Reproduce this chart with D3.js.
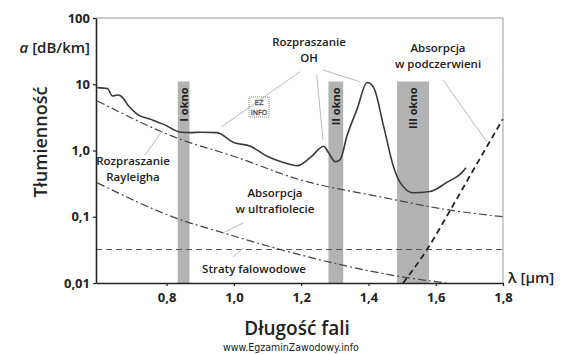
<!DOCTYPE html>
<html>
<head>
<meta charset="utf-8">
<script src="https://cdn.jsdelivr.net/npm/d3@7"></script>
<style>
  body { margin: 0; background: #fff; }
  text { font-family: "Open Sans", "DejaVu Sans", sans-serif; fill: #222; }
</style>
</head>
<body>
<div id="chart-area"></div>
<script>
// data (wavelength in um, attenuation in dB/km)
var totalLambda = [0.594, 0.624, 0.639, 0.654, 0.664, 0.687, 0.713, 0.753, 0.791, 0.842, 0.871, 0.901, 0.95, 0.999, 1.049, 1.099, 1.147, 1.188, 1.227, 1.267, 1.281, 1.301, 1.316, 1.336, 1.366, 1.396, 1.415, 1.445, 1.474, 1.494, 1.533, 1.583, 1.633, 1.677, 1.69];
var totalLoss = [8.9, 8.6, 6.65, 6.9, 6.65, 4.69, 3.51, 2.95, 2.48, 1.89, 1.86, 1.89, 1.86, 1.32, 1.16, 0.82, 0.66, 0.59, 0.78, 1.16, 0.93, 0.68, 0.73, 1.65, 4.18, 10.6, 9.0, 2.33, 0.58, 0.33, 0.23, 0.24, 0.33, 0.46, 0.55];

var rayleighLambda = [0.594, 0.842, 0.999, 1.198, 1.435, 1.633, 1.8];
var rayleighLoss = [5.6, 1.47, 0.82, 0.36, 0.2, 0.128, 0.1];

var uvLambda = [0.594, 0.842, 0.969, 1.138, 1.296, 1.494, 1.633];
var uvLoss = [0.325, 0.09, 0.057, 0.032, 0.02, 0.0125, 0.01];

var irLambda = [1.503, 1.574, 1.643, 1.711, 1.8];
var irLoss = [0.01, 0.032, 0.125, 0.5, 3.0];

var waveguideLoss = 0.032;

var windowNames = ["I okno", "II okno", "III okno"];
var windowStart = [0.833, 1.281, 1.485];
var windowEnd = [0.868, 1.325, 1.58];
var windowTop = 11;

var xTicks = [0.8, 1.0, 1.2, 1.4, 1.6, 1.8];
var xTickLabels = ["0,8", "1,0", "1,2", "1,4", "1,6", "1,8"];
var yTicks = [0.01, 0.1, 1, 10, 100];
var yTickLabels = ["0,01", "0,1", "1,0", "10", "100"];

var margin = {left: 96, right: 67, top: 18, bottom: 71};
var width = 570 - margin.left - margin.right;
var height = 354 - margin.top - margin.bottom;

var svg = d3.select("#chart-area")
  .append("svg")
  .attr("width", 570)
  .attr("height", 354);

var g = svg.append("g")
  .attr("transform", "translate(" + margin.left + "," + margin.top + ")");

var x = d3.scaleLinear().domain([0.59, 1.8]).range([0, width]);
var y = d3.scaleLog().domain([0.01, 100]).range([height, 0]);

// transmission windows
windowNames.forEach(function(name, i) {
  g.append("rect")
    .attr("x", x(windowStart[i]))
    .attr("y", y(windowTop))
    .attr("width", x(windowEnd[i]) - x(windowStart[i]))
    .attr("height", height - y(windowTop))
    .attr("fill", "#b3b3b3");
  var cx = (x(windowStart[i]) + x(windowEnd[i])) / 2;
  g.append("text")
    .attr("transform", "translate(" + (cx + 4) + "," + (y(windowTop) + 6) + ") rotate(-90)")
    .attr("text-anchor", "end")
    .attr("font-size", "11px")
    .attr("font-weight", 700)
    .text(name);
});

function zipPts(xs, ys) {
  return xs.map(function(v, i) { return [v, ys[i]]; });
}

var line = d3.line()
  .x(function(d) { return x(d[0]); })
  .y(function(d) { return y(d[1]); })
  .curve(d3.curveMonotoneX);

var straight = d3.line()
  .x(function(d) { return x(d[0]); })
  .y(function(d) { return y(d[1]); });

// waveguide losses
g.append("path")
  .datum([[0.59, waveguideLoss], [1.8, waveguideLoss]])
  .attr("d", straight)
  .attr("fill", "none")
  .attr("stroke", "#555")
  .attr("stroke-width", 1.1)
  .attr("stroke-dasharray", "6,4");

// rayleigh scattering
g.append("path")
  .datum(zipPts(rayleighLambda, rayleighLoss))
  .attr("d", line)
  .attr("fill", "none")
  .attr("stroke", "#444")
  .attr("stroke-width", 1.2)
  .attr("stroke-dasharray", "8,3,2,3");

// uv absorption
g.append("path")
  .datum(zipPts(uvLambda, uvLoss))
  .attr("d", line)
  .attr("fill", "none")
  .attr("stroke", "#444")
  .attr("stroke-width", 1.2)
  .attr("stroke-dasharray", "8,3,2,3");

// ir absorption
g.append("path")
  .datum(zipPts(irLambda, irLoss))
  .attr("d", line)
  .attr("fill", "none")
  .attr("stroke", "#222")
  .attr("stroke-width", 1.8)
  .attr("stroke-dasharray", "6,4");

// total attenuation
g.append("path")
  .datum(zipPts(totalLambda, totalLoss))
  .attr("d", line)
  .attr("fill", "none")
  .attr("stroke", "#3a3a3a")
  .attr("stroke-width", 1.6);

// frame
g.append("line").attr("x1", 0).attr("x2", width).attr("y1", 0).attr("y2", 0)
  .attr("stroke", "#999").attr("stroke-width", 1);
g.append("line").attr("x1", width).attr("x2", width).attr("y1", 0).attr("y2", height)
  .attr("stroke", "#999").attr("stroke-width", 1);

var xAxis = g.append("g")
  .attr("transform", "translate(0," + height + ")")
  .call(d3.axisBottom(x).tickValues(xTicks).tickSize(3).tickSizeOuter(0)
    .tickFormat(function(d, i) { return xTickLabels[i]; }));
var yAxis = g.append("g")
  .call(d3.axisLeft(y).tickValues(yTicks).tickSize(3).tickSizeOuter(0)
    .tickFormat(function(d, i) { return yTickLabels[i]; }));

[xAxis, yAxis].forEach(function(ax) {
  ax.select(".domain").attr("stroke", "#222").attr("stroke-width", 1.6);
  ax.selectAll(".tick line").attr("stroke", "#222").attr("stroke-width", 1.2);
  ax.selectAll(".tick text")
    .attr("font-family", "'Open Sans', sans-serif")
    .attr("font-size", "13px")
    .attr("font-weight", 700)
    .attr("fill", "#222");
});
xAxis.selectAll(".tick text").attr("dy", "0.71em").attr("y", 10);
yAxis.selectAll(".tick text").attr("x", -6);

// annotation leaders
var leaders = [
  [[145, 155], [163, 130]],
  [[221.7, 126.7], [300, 71.7]],
  [[316.7, 75], [323, 140]],
  [[323, 70], [360, 81.7]],
  [[443, 80], [486.7, 141.7]],
  [[243, 223], [223, 233]],
  [[243, 248], [233, 257]]
];
// leaders are given as page positions, map them back to chart values
leaders.forEach(function(l) {
  var pts = l.map(function(p) {
    return [x.invert(p[0] - margin.left), y.invert(p[1] - margin.top)];
  });
  g.append("path")
    .datum(pts)
    .attr("d", straight)
    .attr("stroke", "#bbb")
    .attr("stroke-width", 1);
});

function label(lines, cx, cy, size) {
  var t = svg.append("text")
    .attr("text-anchor", "middle")
    .attr("font-size", size || "11.5px")
    .attr("font-weight", 600);
  lines.forEach(function(s, i) {
    t.append("tspan").attr("x", cx).attr("y", cy + i * 16).text(s);
  });
}

label(["Rozpraszanie", "Rayleigha"], 133, 165);
label(["Rozpraszanie", "OH"], 309, 46);
label(["Absorpcja", "w podczerwieni"], 438, 52);
label(["Absorpcja", "w ultrafiolecie"], 275, 197);
label(["Straty falowodowe"], 254, 273);

// small logo
svg.append("rect")
  .attr("x", 249).attr("y", 97).attr("width", 20).attr("height", 20)
  .attr("fill", "none").attr("stroke", "#666").attr("stroke-width", 0.8)
  .attr("stroke-dasharray", "1,1");
svg.append("text").attr("x", 259).attr("y", 105).attr("text-anchor", "middle")
  .attr("font-size", "8px").attr("stroke", "#555").attr("stroke-width", 0.5)
  .style("fill", "none").text("EZ");
svg.append("text").attr("x", 259).attr("y", 115).attr("text-anchor", "middle")
  .attr("font-size", "7px").attr("stroke", "#555").attr("stroke-width", 0.5)
  .style("fill", "none").text("INFO");

// axis titles
var aLabel = svg.append("text")
  .attr("x", 90).attr("y", 53)
  .attr("text-anchor", "end")
  .attr("font-size", "15px")
  .attr("font-weight", 600);
aLabel.append("tspan").attr("font-style", "italic").text("a");
aLabel.append("tspan").text(" [dB/km]");

svg.append("text")
  .attr("transform", "translate(47,142) rotate(-90)")
  .attr("text-anchor", "middle")
  .attr("font-size", "18px")
  .attr("font-weight", 600)
  .text("Tłumienność");

svg.append("text")
  .attr("x", 508).attr("y", 283)
  .attr("font-size", "15px")
  .attr("font-weight", 600)
  .text("λ [μm]");

svg.append("text")
  .attr("x", 297).attr("y", 335)
  .attr("text-anchor", "middle")
  .attr("font-size", "19px")
  .attr("font-weight", 600)
  .text("Długość fali");

svg.append("text")
  .attr("x", 291).attr("y", 351)
  .attr("text-anchor", "middle")
  .attr("font-size", "10.5px")
  .style("font-family", "'DejaVu Sans Condensed', sans-serif")
  .text("www.EgzaminZawodowy.info");
</script>
</body>
</html>
